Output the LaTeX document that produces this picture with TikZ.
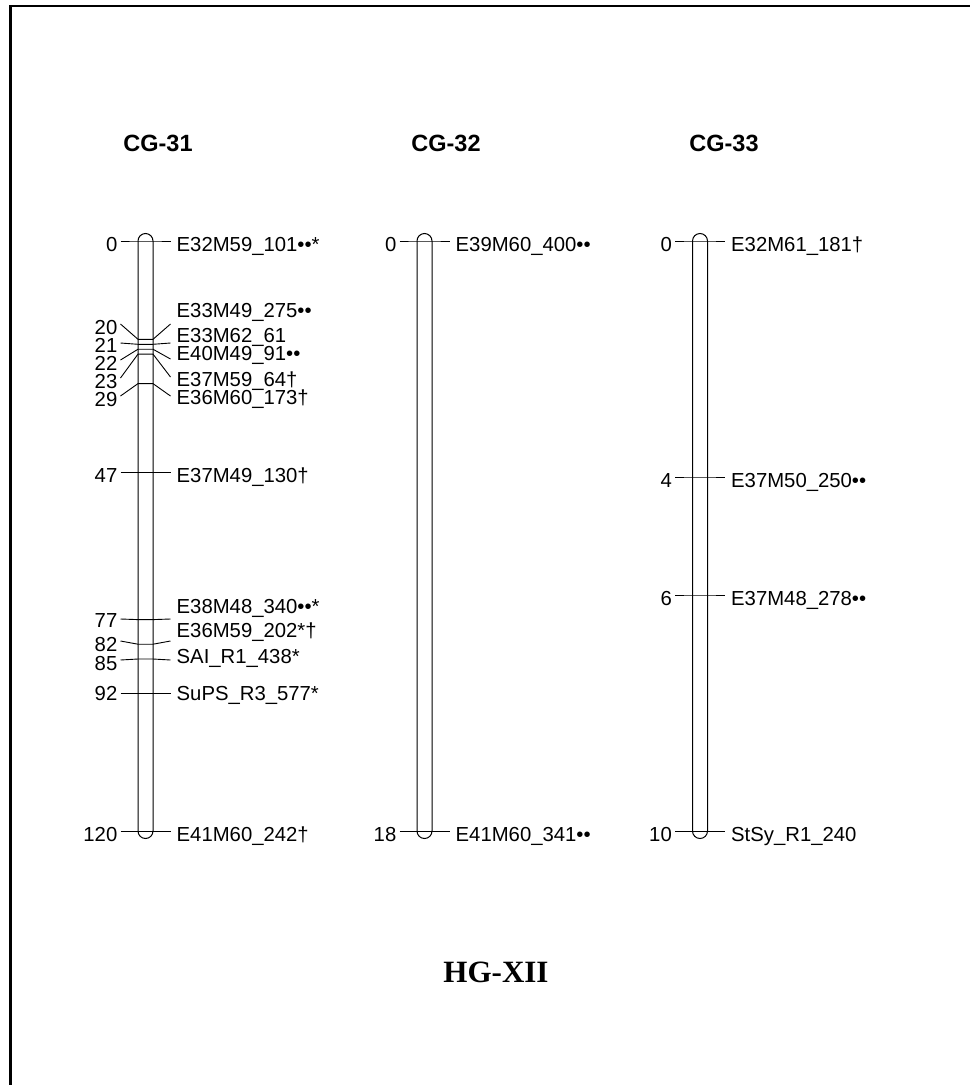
\documentclass[tikz,border=0pt]{standalone}
\usepackage{fontspec}
\setmainfont{Liberation Sans}
\newfontfamily\tnr{Liberation Serif}
\tikzset{
  chrom/.style={draw, line width=1pt, rounded corners=7.5pt},
  tick/.style={line width=0.9pt},
  numlbl/.style={anchor=base east, inner sep=0pt, font=\fontsize{20.3}{24}\selectfont},
  mklbl/.style={anchor=base west, inner sep=0pt, font=\fontsize{20.3}{24}\selectfont},
  cgtitle/.style={inner sep=0pt, font=\bfseries\fontsize{23.5}{28}\selectfont},
}
% #1 id, #2 cx, #3 marker y, #4 left end y, #5 left baseline, #6 right end y, #7 right baseline, #8 number, #9 name
\newcommand{\mrk}[9]{%
  \coordinate (#1l) at (#2-25,#4);
  \coordinate (#1a) at (#2-7.5,#3);
  \coordinate (#1b) at (#2+7.5,#3);
  \coordinate (#1r) at (#2+25,#6);
  \draw[tick] (#1l) -- (#1a) -- (#1b) -- (#1r);
  \node[numlbl] (#1n) at (#2-28,#5) {#8};
  \node[mklbl] (#1t) at (#2+31,#7) {#9};
}
\begin{document}
\begin{tikzpicture}[x=1pt,y=-1pt]
\useasboundingbox (0,0) rectangle (970,1085);
\draw[line width=2.5pt] (10.5,1085) -- (10.5,6) -- (970,6);
% titles
\node[cgtitle] (t1) at (158,143) {CG-31};
\node[cgtitle] (t2) at (446,143) {CG-32};
\node[cgtitle] (t3) at (724,143) {CG-33};
% chromosomes
\draw[chrom] (138,233.5) rectangle (153,838.5);
\draw[chrom] (417,233.5) rectangle (432,838.5);
\draw[chrom] (692.5,233.5) rectangle (707.5,838.5);
% CG-31
\mrk{a0}{145.5}{241}{241}{251}{241}{251}{0}{E32M59\_101••*}
\mrk{a1}{145.5}{339.3}{324}{334}{324}{317}{20}{E33M49\_275••}
\mrk{a2}{145.5}{344.3}{343}{352}{343}{342}{21}{E33M62\_61}
\mrk{a3}{145.5}{349.2}{360}{370}{359}{360.5}{22}{E40M49\_91••}
\mrk{a4}{145.5}{354.1}{378}{388}{377}{386}{23}{E37M59\_64†}
\mrk{a5}{145.5}{383.6}{396}{406}{396}{404.5}{29}{E36M60\_173†}
\mrk{a6}{145.5}{472.1}{472.1}{482}{472.1}{482}{47}{E37M49\_130†}
\mrk{a7}{145.5}{619.6}{619}{627}{619}{613}{77}{E38M48\_340••*}
\mrk{a8}{145.5}{644.2}{641}{651}{641}{637}{82}{E36M59\_202*†}
\mrk{a9}{145.5}{659}{660}{670}{660}{663}{85}{SAI\_R1\_438*}
\mrk{a10}{145.5}{693.3}{693.3}{700}{693.3}{700}{92}{SuPS\_R3\_577*}
\mrk{a11}{145.5}{831}{831}{841}{831}{841}{120}{E41M60\_242†}
% CG-32
\mrk{b0}{424.5}{241}{241}{251}{241}{251}{0}{E39M60\_400••}
\mrk{b1}{424.5}{831}{831}{841}{831}{841}{18}{E41M60\_341••}
% CG-33
\mrk{c0}{700}{241}{241}{251}{241}{251}{0}{E32M61\_181†}
\mrk{c1}{700}{477}{477}{487}{477}{487}{4}{E37M50\_250••}
\mrk{c2}{700}{595}{595}{605}{595}{605}{6}{E37M48\_278••}
\mrk{c3}{700}{831}{831}{841}{831}{841}{10}{StSy\_R1\_240}
% group title
\node[inner sep=0pt, font=\tnr\bfseries\fontsize{31}{36}\selectfont] (hg) at (496,972) {HG-XII};
\end{tikzpicture}
\end{document}
